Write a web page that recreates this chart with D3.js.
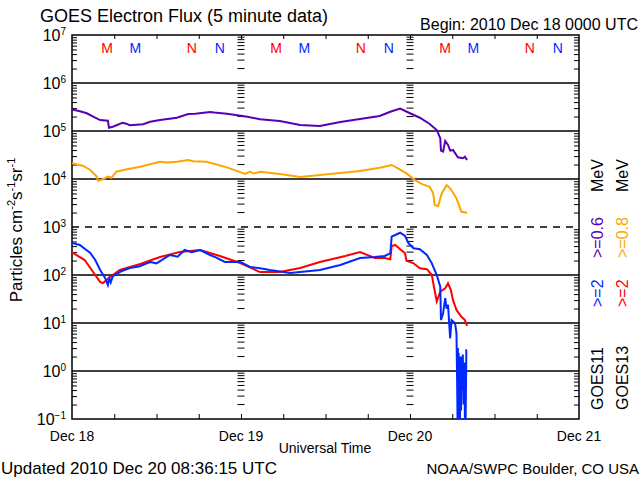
<!DOCTYPE html>
<html><head><meta charset="utf-8">
<script src="https://cdn.jsdelivr.net/npm/d3@7"></script>
<style>
body{margin:0;background:#fff;}
svg{display:block;}
text{font-family:"Liberation Sans",Arial,sans-serif;fill:#000;}
</style></head>
<body>
<script>
// ---- data: [hours since 2010-12-18 00:00 UTC, particles cm^-2 s^-1 sr^-1]
const goes11_06 = [[0,2.8e5],[1.0,2.6e5],[2.1,2.34e5],[3.0,2.0e5],[4.0,1.69e5],[5.1,1.64e5],[5.2,1.3e5],[5.25,1.17e5],[5.8,1.23e5],[6.5,1.35e5],[7.2,1.49e5],[7.7,1.42e5],[8.2,1.32e5],[10.1,1.38e5],[11.1,1.56e5],[12.5,1.69e5],[14.9,1.89e5],[16.5,2.26e5],[17.5,2.3e5],[19.6,2.49e5],[20.2,2.42e5],[22.0,2.29e5],[24.9,1.99e5],[26.7,1.75e5],[29.5,1.61e5],[32.4,1.33e5],[35.2,1.27e5],[38.1,1.54e5],[40.9,1.78e5],[43.7,2.05e5],[45.2,2.52e5],[46.6,2.92e5],[48.0,2.34e5],[49.4,1.89e5],[50.8,1.40e5],[51.8,1.05e5],[52.3,7.05e4],[52.4,3.89e4],[52.7,3.71e4],[53.0,6.19e4],[53.4,5.11e4],[53.7,3.89e4],[54.1,4.02e4],[54.8,2.83e4],[55.5,2.70e4],[55.8,2.92e4],[56.1,2.49e4]];
const goes13_08 = [[0,2.12e4],[1.6,1.87e4],[2.6,1.54e4],[3.5,1.12e4],[3.7,9.2e3],[4.4,9.9e3],[5.1,1.12e4],[5.6,1.06e4],[6.3,1.42e4],[7.8,1.59e4],[9.7,1.80e4],[12.5,2.29e4],[13.5,2.2e4],[14.9,2.29e4],[16.5,2.49e4],[17.2,2.35e4],[19.1,2.29e4],[22.0,1.75e4],[24.6,1.27e4],[25.3,1.42e4],[25.8,1.3e4],[26.7,1.42e4],[29.5,1.27e4],[32.4,1.10e4],[35.2,1.21e4],[38.1,1.33e4],[40.9,1.47e4],[43.7,1.72e4],[45.4,1.96e4],[46.3,1.67e4],[47.5,1.31e4],[48.7,9.5e3],[49.7,7.8e3],[50.8,6.9e3],[51.3,5.0e3],[51.5,2.87e3],[52.0,2.74e3],[52.5,5.0e3],[53.2,7.5e3],[53.7,6.4e3],[54.6,3.96e3],[55.3,2.08e3],[56.1,1.99e3]];
const goes11_2 = [[0,465],[1.1,422],[2.6,287],[3.3,205],[4.0,127],[4.7,87],[5.1,62],[5.3,85],[5.5,70],[5.8,95],[6.1,100],[7.0,120],[8.2,140],[9.5,150],[11.1,187],[12.0,175],[13.9,261],[15.0,240],[16.0,332],[17.0,300],[18.2,332],[19.6,261],[20.5,230],[21.7,187],[23.9,187],[25.3,147],[26.5,140],[28.1,127],[31.0,110],[32.4,115],[35.2,127],[38.1,162],[40.9,226],[43.0,237],[44.4,249],[45.2,283],[45.4,628],[45.9,681],[46.6,760],[47.3,649],[47.8,457],[48.5,360],[49.4,343],[50.4,261],[51.1,175],[51.8,100],[52.3,57],[52.4,11.5],[52.7,15.9],[53.0,33],[53.2,20],[53.4,24],[53.7,4.8],[53.9,11.5],[54.4,9.9],[54.6,6.1],[54.7,0.5],[54.75,0.1],[54.8,3],[54.85,0.1],[54.9,2.4],[55.0,0.3],[55.05,1.5],[55.1,0.1],[55.2,2],[55.25,0.15],[55.3,1.7],[55.4,0.4],[55.5,2.2],[55.6,0.2],[55.7,1.5],[55.8,0.1],[55.9,0.1],[56.0,2.7],[56.1,2.7]];
const goes13_2 = [[0,297],[1.8,205],[2.8,127],[4.0,71],[4.4,68],[5.4,91],[6.8,127],[9.7,169],[12.5,237],[15.3,301],[18.2,332],[21.0,249],[23.9,178],[26.7,115],[29.5,115],[32.4,140],[35.2,187],[38.8,249],[40.9,301],[43.0,226],[44.4,226],[45.2,212],[45.4,402],[45.9,422],[46.6,343],[47.3,283],[47.5,199],[48.5,175],[49.4,138],[50.4,132],[51.1,100],[51.4,57],[51.8,28],[52.3,45],[53.0,53],[53.4,67],[53.8,49],[54.1,30],[54.6,18.7],[55.3,13.5],[55.8,11.5],[56.1,8.7]];
const decades = [-1,0,1,2,3,4,5,6,7];
const dayLabels = ["Dec 18","Dec 19","Dec 20","Dec 21"];
const markerHours = [5,9,17,21];            // local midnight / noon markers per day
const markerText = ["M","M","N","N"];
const markerSat = ["g13","g11","g13","g11"];

const colors = {g11_06:"#5a00b4", g13_08:"#ffa500", g11_2:"#0028ff", g13_2:"#ff0000"};

const W=640,H=480;
const svg=d3.select("body").append("svg").attr("width",W).attr("height",H);
const t0=Date.UTC(2010,11,18);
const hr=h=>new Date(t0+h*3600e3);
const x=d3.scaleUtc().domain([hr(0),hr(72)]).range([72,579]);
const y=d3.scaleLog().domain([0.1,1e7]).range([419,35]);
const L=72,R=579,T=35,B=419;

// minor log ticks
const minor=[];
for(let k=-1;k<7;k++) for(let m=2;m<=9;m++) minor.push(m*Math.pow(10,k));

// horizontal decade lines
svg.append("g").selectAll("line").data(decades.slice(1,-1)).join("line")
  .attr("x1",L).attr("x2",R).attr("y1",d=>y(Math.pow(10,d))).attr("y2",d=>y(Math.pow(10,d)))
  .attr("stroke","#000").attr("stroke-width",1.5)
  .attr("stroke-dasharray",d=>d===3?"7,6":null);

// left & right axis minor ticks (inward)
svg.append("g").attr("transform",`translate(${L},0)`)
  .call(d3.axisLeft(y).tickValues(minor).tickSize(-5).tickFormat(""))
  .call(g=>g.select(".domain").remove());
svg.append("g").attr("transform",`translate(${R},0)`)
  .call(d3.axisRight(y).tickValues(minor).tickSize(-5).tickFormat(""))
  .call(g=>g.select(".domain").remove());
// day-boundary tick stacks
[24,48].forEach(h=>{
  svg.append("g").selectAll("line").data(minor).join("line")
    .attr("x1",x(hr(h))-3.5).attr("x2",x(hr(h))+3.5)
    .attr("y1",d=>y(d)).attr("y2",d=>y(d)).attr("stroke","#000").attr("stroke-width",1);
});
// x ticks every 6 h (top and bottom)
const xt=d3.range(6,72,6).map(hr);
svg.append("g").attr("transform",`translate(0,${B})`)
  .call(d3.axisBottom(x).tickValues(xt).tickSize(-5).tickFormat(""))
  .call(g=>g.select(".domain").remove());
svg.append("g").attr("transform",`translate(0,${T})`)
  .call(d3.axisTop(x).tickValues(xt).tickSize(-4).tickFormat(""))
  .call(g=>g.select(".domain").remove());

// frame
svg.append("rect").attr("x",L).attr("y",T).attr("width",R-L).attr("height",B-T)
  .attr("fill","none").attr("stroke","#000").attr("stroke-width",1.5);

// series
svg.append("clipPath").attr("id","clip").append("rect").attr("x",L).attr("y",T).attr("width",R-L).attr("height",B-T);
const line=d3.line().x(d=>x(hr(d[0]))).y(d=>y(Math.max(0.1,d[1])));
[[goes11_06,colors.g11_06],[goes13_08,colors.g13_08],[goes13_2,colors.g13_2],[goes11_2,colors.g11_2]].forEach(([d,c])=>{
  svg.append("path").datum(d).attr("d",line).attr("fill","none").attr("stroke",c)
    .attr("stroke-width",2).attr("clip-path","url(#clip)");
});

// M / N markers
[0,1,2].forEach(day=>{
  markerHours.forEach((h,i)=>{
    svg.append("text").attr("x",x(hr(day*24+h))).attr("y",53).attr("text-anchor","middle")
      .style("font-size","14px").style("fill",markerSat[i]==="g13"?colors.g13_2:colors.g11_2)
      .text(markerText[i]);
  });
});

// y tick labels
decades.forEach(k=>{
  const t=svg.append("text").attr("x",66).attr("y",y(Math.pow(10,k))+6).attr("text-anchor","end")
    .style("font-size","16px");
  t.append("tspan").text("10");
  t.append("tspan").attr("dy",-6).style("font-size","10px").text(k===-1?"\u22121":String(k));
});

// x labels
dayLabels.forEach((s,i)=>{
  svg.append("text").attr("x",x(hr(i*24))).attr("y",441).attr("text-anchor","middle")
    .style("font-size","14px").text(s);
});
svg.append("text").attr("x",325).attr("y",453).attr("text-anchor","middle").style("font-size","14px").text("Universal Time");

// y title
const yt=svg.append("text").attr("transform","translate(22,230) rotate(-90)").attr("text-anchor","middle").style("font-size","17px");
yt.append("tspan").text("Particles cm");
yt.append("tspan").attr("dy",-7).style("font-size","11px").text("-2");
yt.append("tspan").attr("dy",7).text("s");
yt.append("tspan").attr("dy",-7).style("font-size","11px").text("-1");
yt.append("tspan").attr("dy",7).text("sr");
yt.append("tspan").attr("dy",-7).style("font-size","11px").text("-1");

// titles
svg.append("text").attr("x",40).attr("y",22).style("font-size","18px").text("GOES Electron Flux (5 minute data)");
svg.append("text").attr("x",638).attr("y",30).attr("text-anchor","end").style("font-size","16px").text("Begin: 2010 Dec 18 0000 UTC");
svg.append("text").attr("x",1).attr("y",474).style("font-size","17px").text("Updated 2010 Dec 20 08:36:15 UTC");
svg.append("text").attr("x",639).attr("y",474).attr("text-anchor","end").style("font-size","15px").text("NOAA/SWPC Boulder, CO USA");

// right legend (rotated)
function rtext(xb,ys,str,col){
  svg.append("text").attr("transform",`translate(${xb},${ys}) rotate(-90)`).style("font-size","16px")
    .style("fill",col).text(str);
}
rtext(603,410,"GOES11","#000"); rtext(603,307,">=2",colors.g11_2); rtext(603,258,">=0.6",colors.g11_06); rtext(603,192,"MeV","#000");
rtext(628,410,"GOES13","#000"); rtext(628,307,">=2",colors.g13_2); rtext(628,258,">=0.8",colors.g13_08); rtext(628,192,"MeV","#000");
</script>
</body></html>
